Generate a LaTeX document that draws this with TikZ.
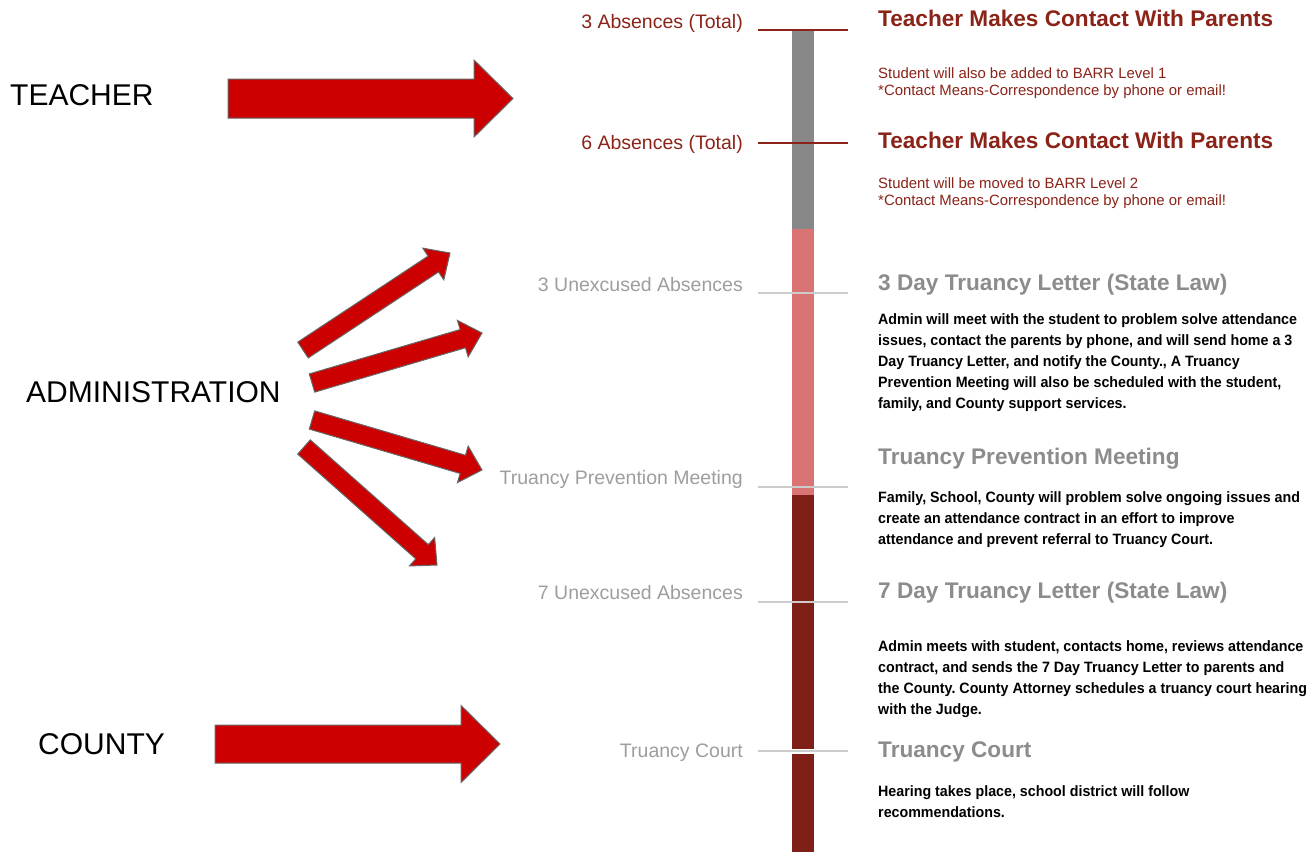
\documentclass[tikz,border=0pt]{standalone}
\usepackage{fontspec}
\setmainfont{Liberation Sans}
\newfontfamily\narrowbold[FakeStretch=0.95]{Liberation Sans}
\usetikzlibrary{calc}
\frenchspacing
\definecolor{dred}{HTML}{8B2318}
\definecolor{bardred}{HTML}{7E1F18}
\definecolor{barpink}{HTML}{DA7373}
\definecolor{bargray}{HTML}{888888}
\definecolor{titlegray}{HTML}{8C8C8C}
\definecolor{labgray}{HTML}{9E9E9E}
\definecolor{tickgray}{HTML}{CCCCCC}
\definecolor{arrowfill}{HTML}{CC0000}
\definecolor{arrowedge}{HTML}{666666}
\tikzset{
  leftlab/.style={anchor=base east, inner sep=0pt, font=\fontsize{19.5}{23}\selectfont},
  redlab/.style={leftlab, text=dred},
  graylab/.style={leftlab, text=labgray},
  titlebase/.style={anchor=base west, inner sep=0pt, font=\bfseries\fontsize{22.6}{26}\selectfont},
  redtitle/.style={titlebase, text=dred},
  graytitle/.style={titlebase, text=titlegray},
  redbody/.style={anchor=north west, inner sep=0pt, align=left, text=dred, font=\fontsize{14.9}{17}\selectfont},
  blackbody/.style={anchor=north west, inner sep=0pt, align=left, text=black, font=\narrowbold\bfseries\fontsize{15}{21}\selectfont},
  rolelab/.style={anchor=base west, inner sep=0pt, text=black, font=\fontsize{30}{35}\selectfont},
  redtick/.style={draw=dred, line width=1.5pt},
  graytick/.style={draw=tickgray, line width=1.5pt},
  bigarrow/.style={fill=arrowfill, draw=arrowedge, line width=1pt, line join=miter},
}
\newcommand\fatarrow[6]{%
  \coordinate (#1-b) at ($(#3)!#6!(#2)$);
  \draw[bigarrow] ($(#2)!#4!90:(#3)$) -- ($(#1-b)!#4!-90:(#2)$) -- ($(#1-b)!#5!-90:(#2)$) -- (#3)
    -- ($(#1-b)!#5!90:(#2)$) -- ($(#1-b)!#4!90:(#2)$) -- ($(#2)!#4!-90:(#3)$) -- cycle;
}
\begin{document}
\begin{tikzpicture}[x=1pt, y=-1pt]
\useasboundingbox[fill=white] (0,0) rectangle (1312,852);

% timeline bar
\fill[bargray] (792,30) rectangle (814,229);
\fill[barpink] (792,229) rectangle (814,495);
\fill[bardred] (792,495) rectangle (814,852);
\fill[white] (792,748.5) rectangle (814,753.5);

% ticks
\coordinate (k1a) at (758,30);  \coordinate (k1b) at (848,30);
\coordinate (k2a) at (758,143); \coordinate (k2b) at (848,143);
\coordinate (k3a) at (758,293); \coordinate (k3b) at (848,293);
\coordinate (k4a) at (758,487); \coordinate (k4b) at (848,487);
\coordinate (k5a) at (758,602); \coordinate (k5b) at (848,602);
\coordinate (k6a) at (758,751); \coordinate (k6b) at (848,751);
\draw[redtick] (k1a) -- (k1b);
\draw[redtick] (k2a) -- (k2b);
\draw[graytick] (k3a) -- (k3b);
\draw[graytick] (k4a) -- (k4b);
\draw[graytick] (k5a) -- (k5b);
\draw[graytick] (k6a) -- (k6b);

% left timeline labels
\node[redlab]  (l1) at (743,28)  {3 Absences (Total)};
\node[redlab]  (l2) at (743,149) {6 Absences (Total)};
\node[graylab] (l3) at (743,291) {3 Unexcused Absences};
\node[graylab] (l4) at (743,484) {Truancy Prevention Meeting};
\node[graylab] (l5) at (743,599) {7 Unexcused Absences};
\node[graylab] (l6) at (743,757) {Truancy Court};

% right titles
\node[redtitle]  (t1) at (878,26)  {Teacher Makes Contact With Parents};
\node[redtitle]  (t2) at (878,148) {Teacher Makes Contact With Parents};
\node[graytitle] (t3) at (878,290) {3 Day Truancy Letter (State Law)};
\node[graytitle] (t4) at (878,464) {Truancy Prevention Meeting};
\node[graytitle] (t5) at (878,598) {7 Day Truancy Letter (State Law)};
\node[graytitle] (t6) at (878,757) {Truancy Court};

% right bodies
\node[redbody] (b1) at (878,67.2) {Student will also be added to BARR Level 1\\*Contact Means-Correspondence by phone or email!};
\node[redbody] (b2) at (878,177.2) {Student will be moved to BARR Level 2\\*Contact Means-Correspondence by phone or email!};
\node[blackbody] (b3) at (878,313) {Admin will meet with the student to problem solve attendance\\issues, contact the parents by phone, and will send home a 3\\Day Truancy Letter, and notify the County., A Truancy\\Prevention Meeting will also be scheduled with the student,\\family, and County support services.};
\node[blackbody] (b4) at (878,491) {Family, School, County will problem solve ongoing issues and\\create an attendance contract in an effort to improve\\attendance and prevent referral to Truancy Court.};
\node[blackbody] (b5) at (878,640) {Admin meets with student, contacts home, reviews attendance\\contract, and sends the 7 Day Truancy Letter to parents and\\the County. County Attorney schedules a truancy court hearing\\with the Judge.};
\node[blackbody] (b6) at (878,785) {Hearing takes place, school district will follow\\recommendations.};

% role labels
\node[rolelab] (r1) at (10,105) {TEACHER};
\node[rolelab] (r2) at (26,402) {ADMINISTRATION};
\node[rolelab] (r3) at (38,754) {COUNTY};

% arrows
\coordinate (a1t) at (228,98.5); \coordinate (a1p) at (513,98.5);
\coordinate (a2t) at (215,744);  \coordinate (a2p) at (500,744);
\fatarrow{ta}{a1t}{a1p}{19.5pt}{38.5pt}{39pt}
\fatarrow{ca}{a2t}{a2p}{19pt}{38.5pt}{39pt}
\coordinate (m1t) at (303,350); \coordinate (m1p) at (450,253);
\coordinate (m2t) at (312,383); \coordinate (m2p) at (482,333);
\coordinate (m3t) at (312,420); \coordinate (m3p) at (482,470);
\coordinate (m4t) at (304,447); \coordinate (m4p) at (437,565);
\fatarrow{ma}{m1t}{m1p}{9.5pt}{19pt}{20pt}
\fatarrow{mb}{m2t}{m2p}{9.5pt}{19pt}{20pt}
\fatarrow{mc}{m3t}{m3p}{9.5pt}{19pt}{20pt}
\fatarrow{md}{m4t}{m4p}{9.5pt}{19pt}{20pt}
\end{tikzpicture}
\end{document}
